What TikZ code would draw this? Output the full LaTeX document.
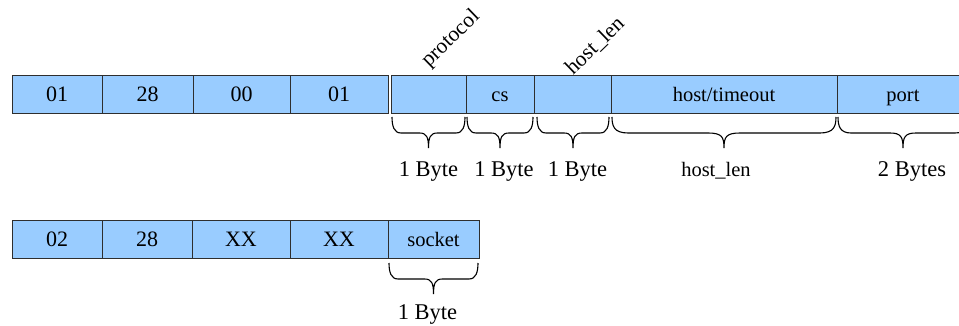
\documentclass[tikz,border=0pt]{standalone}
\usepackage{fontspec}
\setmainfont{Liberation Serif}
\usetikzlibrary{calc}
\definecolor{cellblue}{HTML}{99CCFF}
\definecolor{cellline}{HTML}{2E2E2E}
\tikzset{
  cell/.style={draw=cellline, line width=0.9pt, fill=cellblue, minimum height=38pt,
    inner sep=0pt, outer sep=0pt, text height=18pt, text depth=3.5pt,
    font=\rmfamily\fontsize{22}{26}\selectfont},
  small/.style={font=\rmfamily\fontsize{20.5}{24}\selectfont},
  lbl/.style={inner sep=0pt, anchor=base, font=\rmfamily\fontsize{22.5}{26}\selectfont},
  field/.style={inner sep=0pt, font=\rmfamily\fontsize{21.5}{24}\selectfont, rotate=44},
  % curly brace hanging below a segment, #1 = corner radius
  brace/.style={line width=1.1pt, to path={
    let \p1=(\tikztostart), \p2=(\tikztotarget), \p3=($(\p1)!.5!(\p2)$) in
      .. controls (\x1,\y1-9pt) and (\x1+2pt,\y1-16pt) .. (\x1+#1,\y1-16pt)
      -- (\x3-#1,\y1-16pt)
      .. controls (\x3-2pt,\y1-16pt) and (\x3,\y1-20pt) .. (\x3,\y1-31pt)
      .. controls (\x3,\y1-20pt) and (\x3+2pt,\y1-16pt) .. (\x3+#1,\y1-16pt)
      -- (\x2-#1,\y1-16pt)
      .. controls (\x2-2pt,\y1-16pt) and (\x2,\y1-9pt) .. (\x2,\y1)}},
}
\begin{document}
\begin{tikzpicture}[x=1pt,y=-1pt]
\useasboundingbox (0,0) rectangle (959,326);
\clip (0,0) rectangle (959,326);

% request packet
\node[cell, minimum width=90pt] (a1) at (57,94) {01};
\node[cell, minimum width=91pt] (a2) at (147.5,94) {28};
\node[cell, minimum width=97pt] (a3) at (241.5,94) {00};
\node[cell, minimum width=98pt] (a4) at (339,94) {01};
\node[cell, minimum width=75pt] (proto) at (428.5,94) {};
\node[cell, small, minimum width=68pt] (cs) at (500,94) {cs};
\node[cell, minimum width=77pt] (hlen) at (572.5,94) {};
\node[cell, small, minimum width=226pt] (host) at (724,94) {host/timeout};
\node[cell, small, minimum width=132pt] (port) at (903,94) {port};

% field names above the unlabeled cells
\node[field] (tproto) at (451,39) {protocol};
\node[field] (thlen) at (595,46) {host\_len};

% size braces
\draw[brace=9] ([shift={(1pt,-4pt)}]proto.south west) to ([shift={(-1pt,-4pt)}]proto.south east);
\draw[brace=9] ([shift={(1pt,-4pt)}]cs.south west) to ([shift={(-1pt,-4pt)}]cs.south east);
\draw[brace=9] ([shift={(3pt,-4pt)}]hlen.south west) to ([shift={(-2pt,-4pt)}]hlen.south east);
\draw[brace=16] ([shift={(1pt,-4pt)}]host.south west) to ([shift={(-1pt,-4pt)}]host.south east);
\draw[brace=13] ([shift={(1pt,-4pt)}]port.south west) to ([shift={(-1pt,-4pt)}]port.south east);

\node[lbl] (sproto) at ([yshift=-63pt]proto.south) {1 Byte};
\node[lbl] (scs) at ([shift={(4pt,-63pt)}]cs.south) {1 Byte};
\node[lbl] (shlen) at ([shift={(5pt,-63pt)}]hlen.south) {1 Byte};
\node[lbl, small] (shost) at ([shift={(-8pt,-63pt)}]host.south) {host\_len};
\node[lbl] (sport) at ([shift={(9pt,-63pt)}]port.south) {2 Bytes};

% reply packet
\node[cell, minimum width=90pt] (b1) at (57,239) {02};
\node[cell, minimum width=90pt] (b2) at (147,239) {28};
\node[cell, minimum width=98pt] (b3) at (241,239) {XX};
\node[cell, minimum width=98pt] (b4) at (339,239) {XX};
\node[cell, small, minimum width=91pt] (sock) at (433.5,239) {socket};

\draw[brace=9] ([shift={(1pt,-5pt)}]sock.south west) to ([shift={(-1pt,-5pt)}]sock.south east);
\node[lbl] (ssock) at ([shift={(-6pt,-61pt)}]sock.south) {1 Byte};
\end{tikzpicture}
\end{document}
